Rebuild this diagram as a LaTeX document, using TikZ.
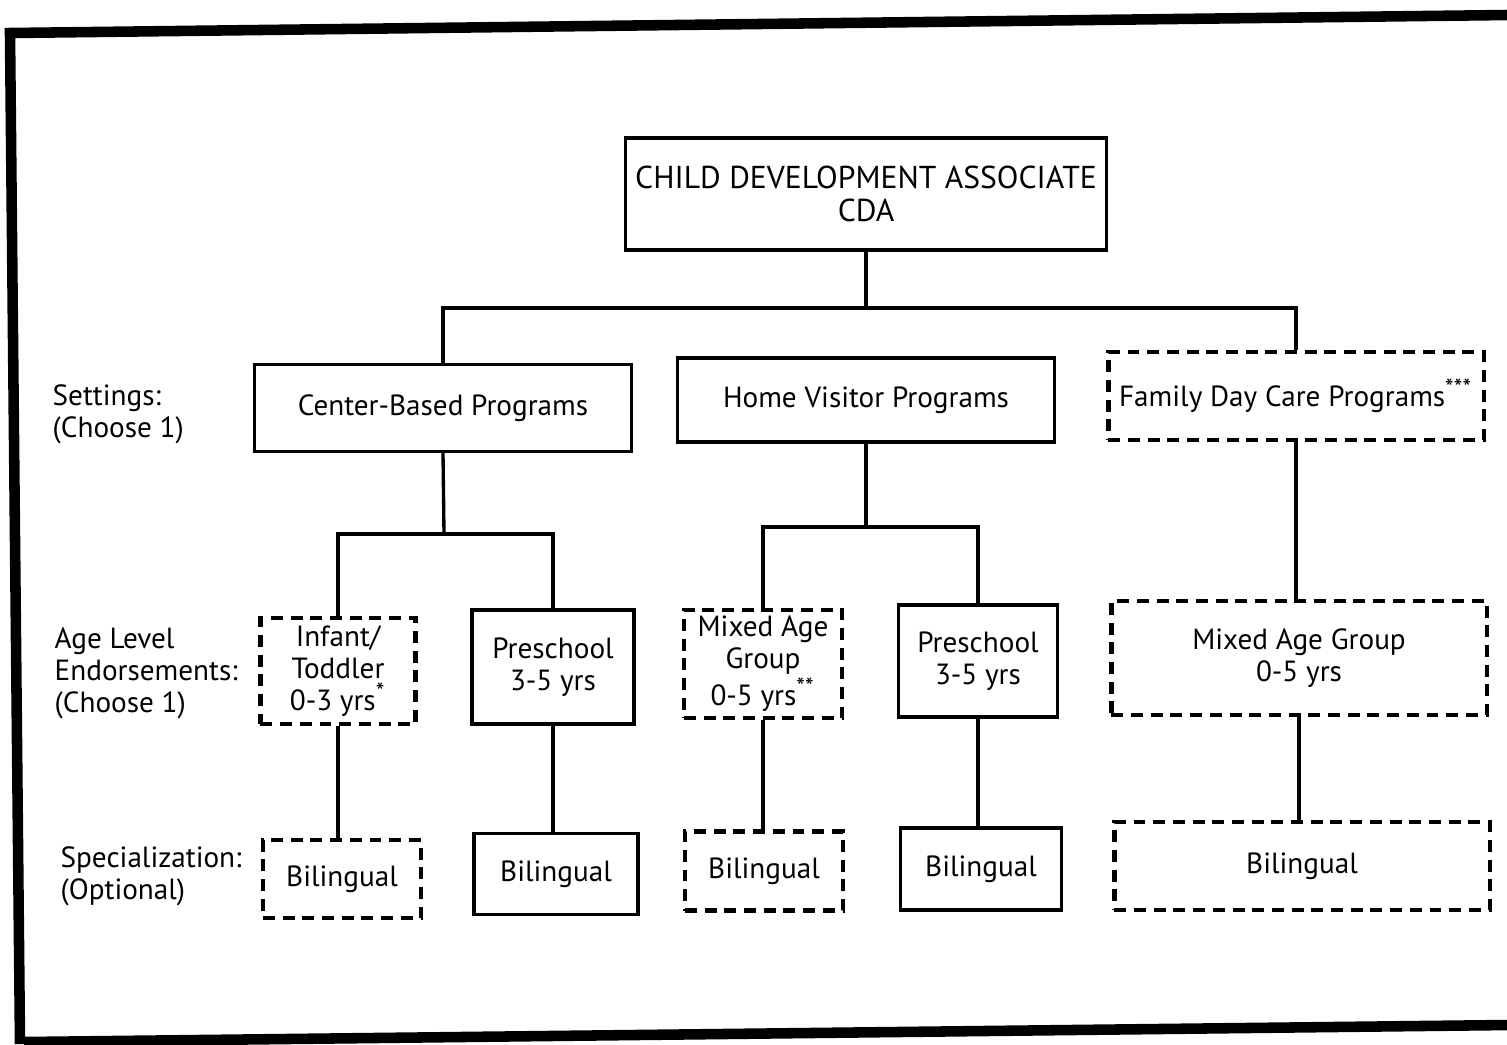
\documentclass[tikz,border=0pt]{standalone}
\usepackage{fontspec}
\setmainfont{PT Sans}
\usepackage{tikz}
\newcommand{\stars}[1]{\textsuperscript{\fontsize{7}{7}\selectfont #1}}
\tikzstyle{solidbox}=[draw, line width=0.95pt, rectangle, inner sep=0pt, align=center, font=\fontsize{8.3}{9.1}\selectfont]
\tikzstyle{dashbox}=[solidbox, dash pattern=on 3.4pt off 2.2pt, line width=1.2pt]
\tikzstyle{sidelabel}=[anchor=west, align=left, inner sep=0pt, font=\fontsize{8.3}{9.1}\selectfont]
\tikzstyle{frame}=[line width=3pt]
\tikzstyle{link}=[line width=0.95pt]

\begin{document}
\begin{tikzpicture}[x=0.01cm, y=-0.01cm]
        \useasboundingbox (0,0) rectangle (1507,1044);
        \draw[frame] (1507,15) -- (10,33) -- (20,1044);
        \draw[frame] (24,1042) -- (1507,1025);
        \node[solidbox, minimum width=4.81cm, minimum height=1.12cm, font=\fontsize{9}{9.6}\selectfont] (cda) at (866,194) {CHILD DEVELOPMENT ASSOCIATE\\CDA};
        % settings row
        \node[solidbox, minimum width=3.77cm, minimum height=0.87cm] (center) at (443,408) {Center-Based Programs};
        \node[solidbox, minimum width=3.77cm, minimum height=0.84cm] (home) at (866,400) {Home Visitor Programs};
        \node[dashbox, minimum width=3.75cm, minimum height=0.88cm] (family) at (1296,396) {Family Day Care Programs\stars{***}};
        % age levels
        \node[dashbox, minimum width=1.55cm, minimum height=1.06cm] (infant) at (338,671) {Infant/\\Toddler\\0-3 yrs\stars{*}};
        \node[solidbox, minimum width=1.62cm, minimum height=1.14cm] (pre1) at (553,667) {Preschool\\3-5 yrs};
        \node[dashbox, minimum width=1.58cm, minimum height=1.08cm] (mixed) at (763,664) {Mixed Age\\Group\\0-5 yrs\stars{**}};
        \node[solidbox, minimum width=1.59cm, minimum height=1.12cm] (pre2) at (978,661) {Preschool\\3-5 yrs};
        \node[dashbox, minimum width=3.75cm, minimum height=1.14cm] (mixedall) at (1299,658) {Mixed Age Group\\0-5 yrs};
        % specialization
        \node[dashbox, minimum width=1.58cm, minimum height=0.78cm] (bil1) at (342,879) {Bilingual};
        \node[solidbox, minimum width=1.64cm, minimum height=0.81cm] (bil2) at (556,874) {Bilingual};
        \node[dashbox, minimum width=1.58cm, minimum height=0.79cm] (bil3) at (764,871) {Bilingual};
        \node[solidbox, minimum width=1.61cm, minimum height=0.82cm] (bil4) at (981,869) {Bilingual};
        \node[dashbox, minimum width=3.75cm, minimum height=0.88cm] (bil5) at (1302,866) {Bilingual};
        % row labels
        \node[sidelabel] (lset) at (52,414) {Settings:\\(Choose 1)};
        \node[sidelabel] (lage) at (54,673) {Age Level\\Endorsements:\\(Choose 1)};
        \node[sidelabel] (lspec) at (60,876) {Specialization:\\(Optional)};
        % connectors
        \coordinate (bus) at (866,308);
        \coordinate (forka) at (444,534);
        \coordinate (forkb) at (866,527);
        \draw[link] (cda.south) -- (bus);
        \draw[link] (center.north) -- (center.north |- bus) -- (family.north |- bus) -- (family.north);
        \draw[link] (center.south) -- (forka);
        \draw[link] (infant.north) -- (infant.north |- forka) -- (pre1.north |- forka) -- (pre1.north);
        \draw[link] (home.south) -- (forkb);
        \draw[link] (mixed.north) -- (mixed.north |- forkb) -- (pre2.north |- forkb) -- (pre2.north);
        \draw[link] (family.south) -- (family.south |- mixedall.north);
        \foreach \a/\b in {infant/bil1, pre1/bil2, mixed/bil3, pre2/bil4, mixedall/bil5}
             \draw[link] (\a.south) -- (\a.south |- \b.north);
    \end{tikzpicture}
\end{document}
